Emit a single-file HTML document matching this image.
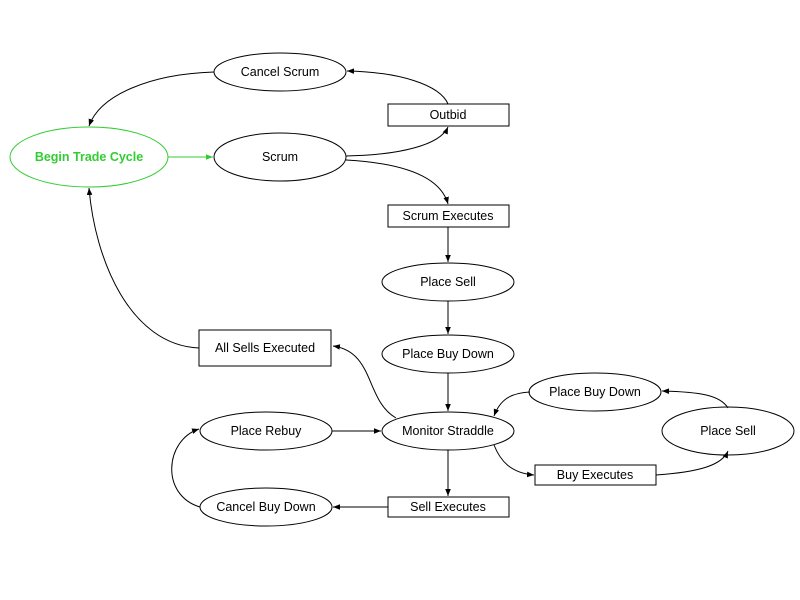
<!DOCTYPE html>
<html><head><meta charset="utf-8"><style>
html,body{margin:0;padding:0;background:#fff;width:800px;height:600px;overflow:hidden}
text{font-family:"Liberation Sans",sans-serif;font-size:12.5px;text-anchor:middle;dominant-baseline:central;fill:#000}
</style></head><body>
<svg width="800" height="600" viewBox="0 0 800 600" xmlns="http://www.w3.org/2000/svg">
<defs>
<marker id="a" viewBox="0 0 10 10" refX="10" refY="5" markerWidth="7" markerHeight="7" orient="auto"><path d="M0,1 L10,5 L0,9 z" fill="#000"/></marker>
<marker id="g" viewBox="0 0 10 10" refX="10" refY="5" markerWidth="7" markerHeight="7" orient="auto"><path d="M0,1 L10,5 L0,9 z" fill="#3c3"/></marker>
</defs>
<g fill="none" stroke="#000" stroke-width="1">
<path d="M214,72 C150,74 100,95 89,126" marker-end="url(#a)"/>
<path d="M448,104 C440,85 400,72 347,71" marker-end="url(#a)"/>
<path d="M346,156 C400,155 440,145 448,127" marker-end="url(#a)"/>
<path d="M346,160 C400,163 440,175 448,204" marker-end="url(#a)"/>
<path d="M448,227 L448,262" marker-end="url(#a)"/>
<path d="M448,301 L448,334" marker-end="url(#a)"/>
<path d="M448,373 L448,411" marker-end="url(#a)"/>
<path d="M199,348 C130,345 95,260 89,188" marker-end="url(#a)"/>
<path d="M396,418 C365,400 375,352 333,346" marker-end="url(#a)"/>
<path d="M332,431 L381,431" marker-end="url(#a)"/>
<path d="M448,450 L448,496" marker-end="url(#a)"/>
<path d="M388,507 L333,507" marker-end="url(#a)"/>
<path d="M200,507 C160,495 165,440 199,429" marker-end="url(#a)"/>
<path d="M494,445 C500,460 510,473 534,475" marker-end="url(#a)"/>
<path d="M656,475 C700,472 722,465 728,451" marker-end="url(#a)"/>
<path d="M728,408 C720,395 700,392 662,391" marker-end="url(#a)"/>
<path d="M530,392 C510,393 500,400 494,416" marker-end="url(#a)"/>
<ellipse cx="280" cy="72" rx="66" ry="19"/>
<ellipse cx="280" cy="157" rx="66" ry="24"/>
<ellipse cx="448" cy="282" rx="66" ry="19"/>
<ellipse cx="448" cy="354" rx="66" ry="19"/>
<ellipse cx="448" cy="431" rx="66" ry="19"/>
<ellipse cx="266" cy="431" rx="66" ry="19"/>
<ellipse cx="266" cy="507" rx="66" ry="19"/>
<ellipse cx="595" cy="392" rx="66" ry="19"/>
<ellipse cx="728" cy="431" rx="66" ry="24"/>
<rect x="388" y="104" width="121" height="22"/>
<rect x="388" y="205" width="121" height="22"/>
<rect x="199" y="330" width="132" height="36"/>
<rect x="388" y="497" width="121" height="20"/>
<rect x="535" y="465" width="121" height="20"/>
</g>
<ellipse cx="89" cy="157" rx="79" ry="30" fill="none" stroke="#3c3"/>
<path d="M168,157 L213,157" stroke="#3c3" fill="none" marker-end="url(#g)"/>
<text x="89" y="157" style="fill:#3c3;font-weight:bold">Begin Trade Cycle</text>
<text x="280" y="72">Cancel Scrum</text>
<text x="280" y="157">Scrum</text>
<text x="448" y="115">Outbid</text>
<text x="448" y="216">Scrum Executes</text>
<text x="448" y="282">Place Sell</text>
<text x="448" y="354">Place Buy Down</text>
<text x="448" y="431">Monitor Straddle</text>
<text x="265" y="348">All Sells Executed</text>
<text x="266" y="431">Place Rebuy</text>
<text x="266" y="507">Cancel Buy Down</text>
<text x="448" y="507">Sell Executes</text>
<text x="595" y="475">Buy Executes</text>
<text x="595" y="392">Place Buy Down</text>
<text x="728" y="431">Place Sell</text>
</svg>
</body></html>
